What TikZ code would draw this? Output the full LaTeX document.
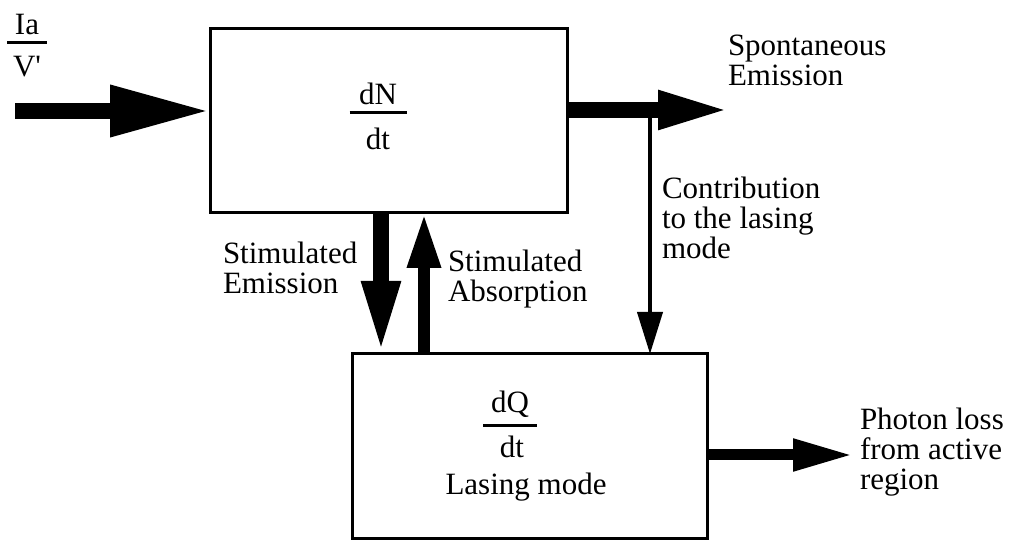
\documentclass[tikz,border=0pt]{standalone}
\usepackage{fontspec}
\setmainfont{Liberation Serif}
\usetikzlibrary{arrows.meta}
\newcommand\numbar[2]{\vtop{\hbox to #1{\hss #2\hss}\kern3pt\hrule height 1.4pt}}
\begin{document}
\begin{tikzpicture}[x=0.5pt,y=-0.5pt,
  txt/.style={inner sep=0pt,outer sep=0pt,font=\fontsize{15.5}{15}\selectfont},
  lbl/.style={txt,align=left,anchor=north west},
  box/.style={draw,line width=1.5pt,inner sep=0pt,outer sep=0pt},
  bigarrow/.style={line width=8pt,-{Triangle[length=50pt,width=24pt]}},
  medarrow/.style={line width=8pt,-{Triangle[length=36.5pt,width=17.5pt]}},
  uparrow/.style={line width=6pt,-{Triangle[length=27.5pt,width=15.5pt]}},
  smallarrow/.style={line width=5.5pt,-{Triangle[length=30pt,width=15pt]}},
  thinarrow/.style={line width=2pt,-{Triangle[length=21pt,width=12.5pt]}}]
\useasboundingbox[fill=white] (0,0) rectangle (1012,544);

% boxes
\node[box,minimum width=178.5pt,minimum height=92pt] (b1) at (388.5,121) {};
\node[box,minimum width=177.5pt,minimum height=92.5pt] (b2) at (529.5,446.5) {};

% box texts
\node[txt,anchor=base] (dn) at (378,105) {\numbar{28.5pt}{dN}};
\node[txt,anchor=base] (dnt) at (378,150) {dt};
\node[txt,anchor=base] (dq) at (510,413) {\numbar{27pt}{dQ}};
\node[txt,anchor=base] (dqt) at (512,458) {dt};
\node[txt,anchor=base] (lm) at (526,495) {Lasing mode};

% input
\node[txt,anchor=base] (ia) at (27,35) {\numbar{20pt}{Ia}};
\node[txt,anchor=base] (vp) at (27,77) {V\textquotesingle};
\coordinate (inS) at (15,111);
\draw[bigarrow] (inS) -- (inS -| b1.west);

% spontaneous emission
\coordinate (spE) at (731,110);
\draw[medarrow] (spE -| b1.east) -- (spE);
\node[lbl] (sp) at (728,35) {Spontaneous\\Emission};

% contribution
\coordinate (ct) at (650,116);
\draw[thinarrow] (ct) -- (ct |- b2.north);
\node[lbl] (ctl) at (662,177) {Contribution\\to the lasing\\mode};

% stimulated emission / absorption
\coordinate (se) at (381,0);
\draw[medarrow] (se |- b1.south) -- (se |- b2.north);
\node[lbl] (sel) at (223,242) {Stimulated\\Emission};
\coordinate (sa) at (424,0);
\draw[uparrow] (sa |- b2.north) -- (sa |- b1.south);
\node[lbl] (sal) at (448,250) {Stimulated\\Absorption};

% photon loss
\coordinate (ph) at (853,455);
\draw[smallarrow] (ph -| b2.east) -- (ph);
\node[lbl] (phl) at (860,408) {Photon loss\\from active\\region};
\end{tikzpicture}
\end{document}
